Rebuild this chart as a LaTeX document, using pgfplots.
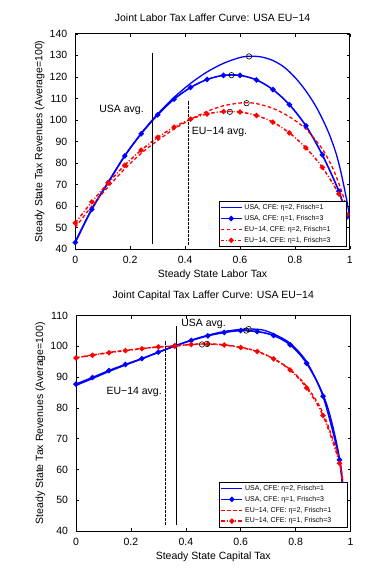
\documentclass[border=0pt]{standalone}
\usepackage{fontspec}
\setmainfont{Liberation Sans}
\usepackage{pgfplots}
\pgfplotsset{compat=1.18}
\begin{document}
\begin{tikzpicture}[x=1pt,y=1pt]
\useasboundingbox (0,0) rectangle (383,575);
\pgfplotsset{
 lafstyle/.style={
  scale only axis, width=274.5pt, height=215.5pt,
  xmin=0, xmax=1, xtick={0,0.2,0.4,0.6,0.8,1},
  tick pos=both, tick align=inside, major tick length=3pt,
  axis line style={line width=0.8pt}, every tick/.style={black, line width=0.5pt},
  tick label style={font=\fontsize{10.5}{12}\selectfont},
  xticklabel style={anchor=center, yshift=-11pt},
  yticklabel style={anchor=east, xshift=-4.5pt},
  /pgf/number format/assume math mode=true,
  label style={font=\fontsize{10.5}{12}\selectfont},
  ylabel={Steady State Tax Revenues (Average=100)},
  ylabel style={at={(axis description cs:-0.130,0.5)}, anchor=center},
  xlabel style={at={(axis description cs:0.5,-0.1193)}, anchor=center},
  legend cell align=left,
  legend style={font=\fontsize{7}{8}\selectfont, inner sep=1pt, row sep=0.3pt, draw=black, line width=0.7pt, fill=white},
  legend image code/.code={\draw[mark repeat=2,mark phase=2] plot coordinates {(0pt,0pt)(10.5pt,0pt)(21pt,0pt)};},
 },
 sA/.style={blue, line width=1.3pt, smooth, tension=0.5, no marks},
 sB/.style={blue, line width=1.6pt, smooth, tension=0.5, mark=*, mark size=1.8pt, mark options={solid, fill=blue}},
 sC/.style={red, line width=1.3pt, smooth, tension=0.5, dash pattern=on 3.5pt off 2.5pt, no marks},
 sD/.style={red, line width=1.5pt, smooth, tension=0.5, dash pattern=on 3.5pt off 2pt on 1pt off 2pt, mark=*, mark size=1.8pt, mark options={solid, fill=red}},
 circ/.style={only marks, mark=o, mark size=2.7pt, black, mark options={line width=0.6pt}, forget plot},
}
% ---------------- top panel ----------------
\begin{axis}[lafstyle, at={(75.3pt,325.7pt)}, anchor=south west,
  ymin=40, ymax=140, ytick={40,50,...,140},
  title={Joint Labor Tax Laffer Curve: USA EU−14},
  title style={font=\fontsize{10.5}{12}\selectfont, at={(axis description cs:0.5,1)}, anchor=center, yshift=10pt},
  xlabel={Steady State Labor Tax},
  legend style={at={(0.989,0.011)}, anchor=south east}]
\addplot[sA] coordinates {(0,43.5) (0.06,58.8) (0.12,71.2) (0.18,83.4) (0.24,93.8) (0.30,102.8) (0.36,110.5) (0.42,117) (0.48,122.3) (0.54,126.3) (0.60,129) (0.64,129.6) (0.68,129.2) (0.72,127.6) (0.76,124.6) (0.80,119.8) (0.84,113.5) (0.88,105.5) (0.92,95) (0.95,84.5) (0.97,74.5) (0.99,62) (0.998,56)};
\addlegendentry{USA, CFE: η=2, Frisch=1\hspace*{20pt}}
\addplot[sB] coordinates {(0,43.2) (0.06,58.5) (0.12,71) (0.18,83.3) (0.24,93.6) (0.30,102.4) (0.36,109.7) (0.42,115.1) (0.48,118.8) (0.54,120.7) (0.60,120.7) (0.66,118.6) (0.72,114.1) (0.78,107.1) (0.84,97.3) (0.90,83.8) (0.96,67) (0.99,55)};
\addlegendentry{USA, CFE: η=1, Frisch=3}
\addplot[sC] coordinates {(0,50.2) (0.06,60) (0.12,69) (0.18,77.3) (0.24,84.5) (0.30,90.5) (0.36,95.8) (0.42,100.3) (0.48,104) (0.54,106.6) (0.60,107.9) (0.63,108) (0.66,107.6) (0.72,105.4) (0.78,101.5) (0.84,95.8) (0.90,86.5) (0.94,77) (0.97,67) (0.99,59)};
\addlegendentry{EU−14, CFE: η=2, Frisch=1}
\addplot[sD] coordinates {(0,52.2) (0.06,62) (0.12,70.8) (0.18,79) (0.24,86) (0.30,91.9) (0.36,96.7) (0.42,100.4) (0.48,102.8) (0.54,103.9) (0.60,103.7) (0.66,102.1) (0.72,99) (0.78,94) (0.84,87.1) (0.90,78) (0.96,65.7) (0.99,56)};
\addlegendentry{EU−14, CFE: η=1, Frisch=3}
\addplot[circ] coordinates {(0.633,129.5) (0.569,120.8) (0.624,107.8) (0.563,103.8)};
\addplot[black, line width=0.8pt, forget plot] coordinates {(0.282,42.3) (0.282,130.9)};
\addplot[black, line width=0.8pt, dash pattern=on 2.5pt off 1.5pt, forget plot] coordinates {(0.413,42) (0.413,109)};
\node[anchor=west, font=\fontsize{10.5}{12}\selectfont, inner sep=0pt] at (axis cs:0.087,104.9) {USA avg.};
\node[anchor=west, font=\fontsize{10.5}{12}\selectfont, inner sep=0pt] at (axis cs:0.424,94.6) {EU−14 avg.};
\end{axis}
% ---------------- bottom panel ----------------
\begin{axis}[lafstyle, at={(76pt,44pt)}, anchor=south west,
  ymin=40, ymax=110, ytick={40,50,...,110},
  title={Joint Capital Tax Laffer Curve: USA EU−14},
  title style={font=\fontsize{10.5}{12}\selectfont, at={(axis description cs:0.5,1)}, anchor=center, yshift=13.5pt},
  xlabel={Steady State Capital Tax},
  legend style={at={(0.989,0.015)}, anchor=south east}]
\addplot[sA] coordinates {(0,87.3) (0.06,89.5) (0.12,91.8) (0.18,93.9) (0.24,95.9) (0.30,98) (0.36,100.1) (0.42,102) (0.48,103.6) (0.54,104.8) (0.60,105.5) (0.64,105.6) (0.68,105.3) (0.72,104) (0.78,101) (0.84,95) (0.90,84.3) (0.93,76) (0.96,63.5) (0.975,50)};
\addlegendentry{USA, CFE: η=2, Frisch=1\hspace*{20pt}}
\addplot[sB] coordinates {(0,87.7) (0.06,89.85) (0.12,92.1) (0.18,94.1) (0.24,96) (0.30,98.1) (0.36,100.1) (0.42,101.9) (0.48,103.4) (0.54,104.5) (0.60,105.1) (0.66,104.8) (0.72,103.5) (0.78,100.5) (0.84,94.5) (0.90,83.8) (0.96,63.1) (0.975,50)};
\addlegendentry{USA, CFE: η=1, Frisch=3}
\addplot[sC] coordinates {(0,96.3) (0.06,97.2) (0.12,98) (0.18,98.7) (0.24,99.3) (0.30,99.8) (0.36,100.1) (0.42,100.6) (0.48,100.8) (0.54,100.5) (0.60,99.7) (0.66,98.4) (0.72,96) (0.78,92.5) (0.84,87) (0.90,78.3) (0.96,63) (0.975,53)};
\addlegendentry{EU−14, CFE: η=2, Frisch=1}
\addplot[sD] coordinates {(0,96.2) (0.06,97.1) (0.12,97.9) (0.18,98.6) (0.24,99.2) (0.30,99.8) (0.36,100.1) (0.42,100.6) (0.48,100.7) (0.54,100.4) (0.60,99.6) (0.66,98.3) (0.72,95.9) (0.78,92.3) (0.84,86.5) (0.90,77.5) (0.96,62) (0.975,52)};
\addlegendentry{EU−14, CFE: η=1, Frisch=3}
\addplot[circ] coordinates {(0.620,105.1) (0.629,105.6) (0.459,100.6) (0.477,100.8)};
\addplot[black, line width=0.8pt, forget plot] coordinates {(0.365,42) (0.365,106.7)};
\addplot[black, line width=0.8pt, dash pattern=on 2.5pt off 1.5pt, forget plot] coordinates {(0.327,42) (0.327,101.8)};
\node[anchor=west, font=\fontsize{10.5}{12}\selectfont, inner sep=0pt] at (axis cs:0.383,107.2) {USA avg.};
\node[anchor=east, font=\fontsize{10.5}{12}\selectfont, inner sep=0pt] at (axis cs:0.313,85.2) {EU−14 avg.};
\end{axis}
\end{tikzpicture}
\end{document}
